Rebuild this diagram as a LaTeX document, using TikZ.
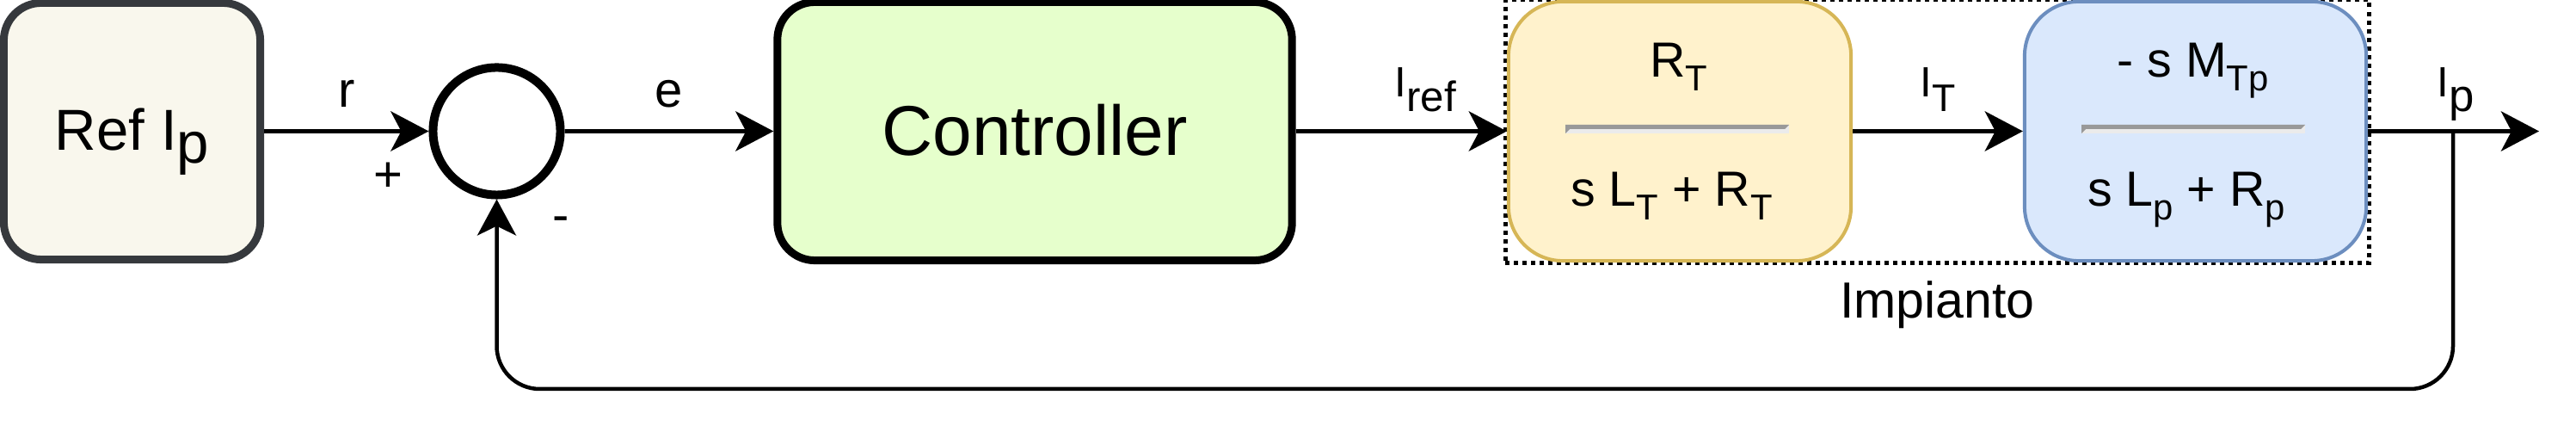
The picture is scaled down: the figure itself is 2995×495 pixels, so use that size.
\documentclass[tikz,border=0pt]{standalone}
\usepackage{fontspec}
\setmainfont{Liberation Sans}
\usepackage{tikz}
\usetikzlibrary{arrows.meta,positioning,fit,calc,backgrounds}
\tikzset{every node/.append style={align=center}}
\definecolor{refgray}{HTML}{36393D}
\definecolor{refback}{HTML}{F9F7ED}
\definecolor{ctrlgreen}{HTML}{E6FFCC}
\definecolor{softyellow}{HTML}{FFF2CC}
\definecolor{darkyellow}{HTML}{D6B656}
\definecolor{softblue}{HTML}{DAE8FC}
\definecolor{deepblue}{HTML}{6C8EBF}
\definecolor{bardark}{HTML}{999999}
\definecolor{barlight}{HTML}{EBEBEB}
\newcommand{\fsz}[1]{\fontsize{#1}{#1}\selectfont}
\newcommand{\lowsub}[2][4.3pt]{\raisebox{-#1}{#2}}

\begin{document}
\begin{tikzpicture}[x=0.01cm,y=-0.01cm,
  block/.style={rounded corners=0.435cm, inner sep=0pt, line width=0.09cm},
  tfbox/.style={block, rounded corners=0.63cm, line width=0.04cm, minimum width=3.98cm, minimum height=3.01cm},
  flow/.style={line width=0.057cm, -{Stealth[length=0.44cm,width=0.46cm,inset=0.12cm]}},
  fbline/.style={line width=0.045cm, rounded corners=0.5cm, -{Stealth[length=0.42cm,width=0.45cm,inset=0.11cm]}},
  lbl/.style={inner sep=0pt, anchor=base, font=\fsz{16.5pt}},
  sublbl/.style={inner sep=0pt, anchor=base, font=\fsz{14pt}},
  frac/.style={inner sep=0pt, anchor=base, font=\fsz{16.3pt}}]
  \useasboundingbox (0,0) rectangle (2995,495);

  % blocks of the loop
  \node[block, draw=refgray, fill=refback, minimum width=2.98cm, minimum height=2.98cm,
        text height=0.6cm, text depth=0.16cm, font=\fsz{19.1pt}] (ref) at (153.5,152.5) {Ref I\lowsub{p}};
  \node[circle, draw, line width=0.1cm, minimum size=1.48cm, inner sep=0pt] (sum) at (577.5,152.5) {};
  \node[block, draw=black, fill=ctrlgreen, minimum width=5.98cm, minimum height=3cm,
        text height=0.7cm, text depth=0.15cm, font=\fsz{23.3pt}] (ctrl) at (1203,152.5) {Controller};
  \node[tfbox, draw=darkyellow, fill=softyellow] (ftT) at (1953,152.5) {};
  \node[tfbox, draw=deepblue, fill=softblue, minimum width=3.97cm] (ftp) at (2552.5,152.5) {};

  % plant frame
  \begin{scope}[on background layer]
    \node[fit=(ftT)(ftp), inner xsep=0.015cm, inner ysep=0cm, draw, line width=0.05cm,
          dash pattern=on 0.05cm off 0.05cm] (plant) {};
  \end{scope}
  \node[font=\fsz{16.8pt}, anchor=base, inner sep=0pt] (implab) at ([yshift=-0.62cm]plant.south) {Impianto};

  % transfer functions
  \foreach \xa/\xb in {1820/2080,2420/2680}{
    \fill[barlight] (\xa,145) rectangle (\xb,155);
    \fill[bardark] (\xa,145) -- (\xb,145) -- (\xb-5,150) -- (\xa+5,150) -- (\xa,155) -- cycle;
  }
  \node[frac] (numT) at (1951.5,90) {R\lowsub{\fsz{11.9pt}T}};
  \node[frac] (denT) at (1943.5,240) {s L\lowsub{\fsz{11.9pt}T} + R\lowsub{\fsz{11.9pt}T}};
  \node[frac] (nump) at (2549.5,90) {- s M\lowsub{\fsz{11.9pt}Tp}};
  \node[frac] (denp) at (2542,240) {s L\lowsub{\fsz{11.9pt}p} + R\lowsub{\fsz{11.9pt}p}};

  % signals
  \coordinate (tap) at (2852,152.5);
  \coordinate (outend) at (2952,152.5);
  \coordinate (fbcorner) at (2852,452);
  \draw[flow] (ref) -- node[lbl, yshift=0.275cm] (rlab) {r}
                       node[lbl, pos=.754, yshift=-0.695cm] (plus) {+} (sum);
  \draw[flow] (sum) -- node[lbl, yshift=0.275cm] (elab) {e} (ctrl);
  \draw[flow] (ctrl) -- node[sublbl, xshift=0.28cm, yshift=0.395cm] (ireflab) {I\lowsub[4.8pt]{ref}} (ftT);
  \draw[flow] (ftT) -- node[sublbl, yshift=0.395cm] (itlab) {I\lowsub[4.8pt]{\fsz{12.7pt}T}} (ftp);
  \draw[flow] (ftp) -- node[sublbl, xshift=0.025cm, yshift=0.395cm] (iplab) {I\lowsub[4.8pt]{\fsz{15pt}p}} (outend);
  \draw[fbline] (tap) -- (fbcorner) -- (sum |- fbcorner) -- (sum);
  \node[lbl] (minus) at (652,270) {-};
\end{tikzpicture}
\end{document}
